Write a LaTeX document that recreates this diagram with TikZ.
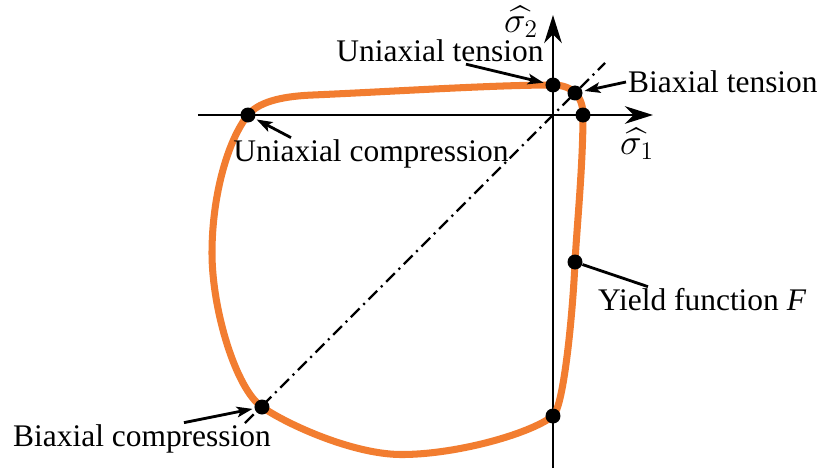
\documentclass[tikz,border=0pt]{standalone}
\usepackage{fontspec}
\setmainfont{Liberation Serif}
\usepackage{amsmath}
\usepackage{xcolor}
\usetikzlibrary{arrows.meta,positioning}
\definecolor{yieldorange}{RGB}{242,125,48}

\begin{document}
\begin{tikzpicture}[
    axis/.style={line width=1.7pt,-{Stealth[length=16pt,width=10pt,inset=5pt]}},
    note/.style={line width=1.6pt,-{Stealth[length=9pt,width=6pt,inset=2pt]},shorten >=1pt},
    dot/.style={circle,fill=black,inner sep=0pt,minimum size=0.3cm},
    lbl/.style={inner sep=1pt,font=\fontsize{17.9}{21}\selectfont},
    axlbl/.style={inner sep=1pt,font=\fontsize{21}{24}\selectfont},
    yieldline/.style={draw=yieldorange,line width=4pt,line join=round},
    diag/.style={line width=1.3pt,dash pattern=on 7pt off 3pt on 1.2pt off 3pt}
  ]
    \useasboundingbox (-11.06,-7.14) rectangle (5.42,2.30);

    % axes and the equibiaxial line
    \coordinate (xmin) at (-7.1,0);
    \coordinate (xmax) at (2.0,0);
    \coordinate (ymin) at (0,-7.06);
    \coordinate (ymax) at (0,2.0);
    \coordinate (dlo) at (-6.16,-6.16);
    \coordinate (dhi) at (1.04,1.04);
    \draw[axis] (xmin) -- (xmax);
    \draw[axis] (ymin) -- (ymax);
    \draw[diag] (dlo) -- (dhi);
    \node[axlbl] (s1) at (1.68,-0.58) {$\widehat{\sigma_1}$};
    \node[axlbl] (s2) at (-0.64,1.86) {$\widehat{\sigma_2}$};

    % points on the yield surface
    \coordinate (uc) at (-6.10,0);
    \coordinate (ut) at (0,0.6);
    \coordinate (bt) at (0.44,0.44);
    \coordinate (sa) at (0.6,0);
    \coordinate (yf) at (0.44,-2.94);
    \coordinate (sb) at (0,-6.02);
    \coordinate (bc) at (-5.82,-5.84);

    % yield function F
    \draw[yieldline] (uc) .. controls (-5.86,0.3) and (-5.3,0.38) .. (-4.8,0.40)
      .. controls (-3.2,0.47) and (-1.2,0.6) .. (ut)
      .. controls (0.38,0.6) and (0.6,0.38) .. (sa)
      .. controls (0.6,-1.0) and (0.48,-2.2) .. (yf)
      .. controls (0.40,-3.9) and (0.22,-5.84) .. (sb)
      .. controls (-0.5,-6.4) and (-2.0,-6.8) .. (-3.06,-6.79)
      .. controls (-4.0,-6.78) and (-5.3,-6.2) .. (bc)
      .. controls (-6.34,-5.48) and (-6.82,-3.9) .. (-6.82,-2.76)
      .. controls (-6.82,-1.6) and (-6.5,-0.5) .. (uc) -- cycle;

    \node[dot] (ucdot) at (uc) {};
    \node[dot] (utdot) at (ut) {};
    \node[dot] (btdot) at (bt) {};
    \node[dot] (sadot) at (sa) {};
    \node[dot] (yfdot) at (yf) {};
    \node[dot] (sbdot) at (sb) {};
    \node[dot] (bcdot) at (bc) {};

    % labels
    \node[lbl] (utl) at (-2.26,1.28) {Uniaxial tension};
    \node[lbl,anchor=west] (btl) at (1.46,0.66) {Biaxial tension};
    \node[lbl] (ucl) at (-3.64,-0.78) {Uniaxial compression};
    \node[lbl,anchor=west] (yfl) at (0.86,-3.70) {Yield function \textit{F}};
    \node[lbl] (bcl) at (-8.22,-6.48) {Biaxial compression};

    \draw[note] ([xshift=0.52cm]utl.south) -- (utdot);
    \draw[note] (btl.west) -- (btdot);
    \draw[note] ([xshift=-1.6cm]ucl.north) -- (ucdot);
    \draw[note] ([xshift=0.84cm]bcl.north) -- (bcdot);
    \draw[line width=1.6pt] ([xshift=1.04cm]yfl.north west) -- (yfdot);
  \end{tikzpicture}
\end{document}
